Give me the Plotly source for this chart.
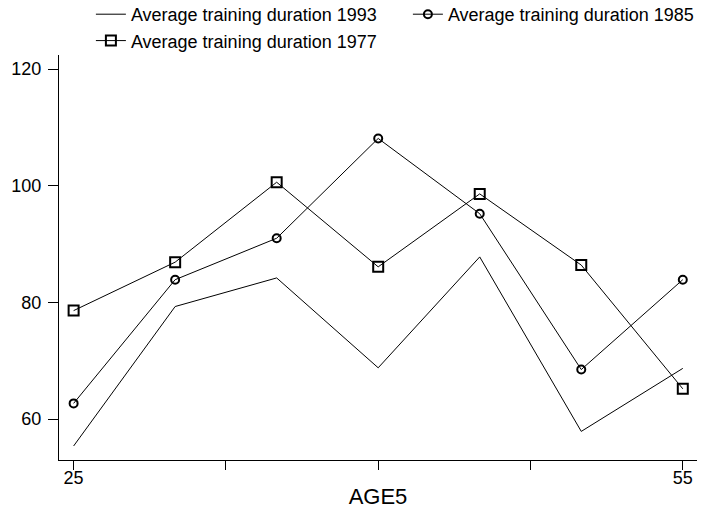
import plotly.graph_objects as go

age = [25, 30, 35, 40, 45, 50, 55]
dur_1993 = [55.4, 79.3, 84.2, 68.8, 87.8, 57.9, 68.7]
dur_1985 = [62.7, 83.9, 91.0, 108.1, 95.2, 68.5, 83.9]
dur_1977 = [78.6, 86.9, 100.6, 86.1, 98.6, 86.4, 65.2]

x_tickvals = [25, 32.5, 40, 47.5, 55]
x_ticktext = ["25", "", "", "", "55"]
y_tickvals = [60, 80, 100, 120]

FONT = "Liberation Sans, Arial, sans-serif"

fig = go.Figure()
fig.add_trace(go.Scatter(x=age, y=dur_1993, mode="lines", name="Average training duration 1993",
                         line=dict(color="black", width=1)))
fig.add_trace(go.Scatter(x=age, y=dur_1985, mode="lines+markers", name="Average training duration 1985",
                         line=dict(color="black", width=1),
                         marker=dict(symbol="circle-open", size=8, color="black", line=dict(width=2, color="black"))))
fig.add_trace(go.Scatter(x=age, y=dur_1977, mode="lines+markers", name="Average training duration 1977",
                         line=dict(color="black", width=1),
                         marker=dict(symbol="square-open", size=10, color="black", line=dict(width=2, color="black"))))

fig.update_layout(
    width=707, height=511,
    margin=dict(l=59, r=10, t=55, b=51, autoexpand=False),
    paper_bgcolor="white", plot_bgcolor="white",
    font=dict(family=FONT, size=18, color="black"),
    showlegend=True,
    legend=dict(orientation="h", x=0.05, xanchor="left", y=1.1457, yanchor="top",
                yref="paper", entrywidth=272, entrywidthmode="pixels",
                font=dict(size=18), bgcolor="rgba(0,0,0,0)", borderwidth=0,
                tracegroupgap=0, itemwidth=30),
    xaxis=dict(range=[24.28, 55.70], tickvals=x_tickvals, ticktext=x_ticktext, automargin=False,
               showgrid=False, zeroline=False, showline=True, linecolor="black", linewidth=1,
               ticks="outside", ticklen=9, tickcolor="black", tickwidth=1,
               ticklabelstandoff=-8,
               title=dict(text="AGE5", standoff=2), tickfont=dict(size=18)),
    yaxis=dict(range=[53.0, 122.4], tickvals=y_tickvals, automargin=False,
               showgrid=False, zeroline=False, showline=True, linecolor="black", linewidth=1,
               ticks="outside", ticklen=10, tickcolor="black", tickwidth=1,
               ticklabelstandoff=3,
               tickfont=dict(size=18)),
)

fig.write_html("out.html")
